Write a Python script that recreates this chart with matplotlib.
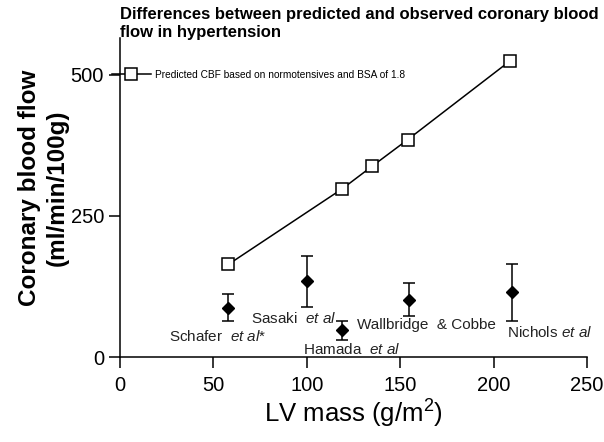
import matplotlib
matplotlib.use("Agg")
import matplotlib.pyplot as plt

plt.rcParams['font.family'] = ['Liberation Sans', 'DejaVu Sans']
plt.rcParams['mathtext.fontset'] = 'custom'
plt.rcParams['mathtext.rm'] = 'Liberation Sans'
plt.rcParams['mathtext.it'] = 'Liberation Sans:italic'

# predicted CBF (normotensive based, BSA 1.8)
pred_mass = [58, 119, 135, 154, 209]
pred_cbf = [164, 298, 338, 385, 525]

# observed CBF in hypertension, mean with upper / lower error
obs_mass = [58, 100, 119, 154.5, 210]
obs_cbf = [87, 135, 47, 101, 116]
obs_hi = [111, 179, 63, 131, 165]
obs_lo = [64, 88, 30, 73, 64]

study_labels = ["Schafer  $\\it{et\\ al}$*", "Sasaki  $\\it{et\\ al}$",
                "Hamada  $\\it{et\\ al}$", "Wallbridge  & Cobbe",
                "Nichols $\\it{et\\ al}$"]
label_pos = [(26, 37), (70, 69), (98, 14), (127, 57), (207, 43)]

xticks = [0, 50, 100, 150, 200, 250]
yticks = [0, 250, 500]

fig = plt.figure(figsize=(6.04, 4.42), dpi=100)
ax = fig.add_axes([0.1987, 0.1923, 0.7732, 0.7217])

ax.plot(pred_mass, pred_cbf, color='black', lw=1.1, marker='s', ms=8,
        mfc='white', mec='black', mew=1.1,
        label='Predicted CBF based on normotensives and BSA of 1.8')

yerr = [[m - l for m, l in zip(obs_cbf, obs_lo)],
        [h - m for m, h in zip(obs_cbf, obs_hi)]]
ax.errorbar(obs_mass, obs_cbf, yerr=yerr, fmt='D', color='black', ms=6.5,
            ecolor='black', elinewidth=1.1, capsize=4, capthick=1.1)

for txt, (x, y) in zip(study_labels, label_pos):
    ax.text(x, y, txt, fontsize=11, va='center', ha='left', color='#222222')

ax.set_xlim(0, 250)
ax.set_ylim(0, 565)
ax.set_xticks(xticks)
ax.set_yticks(yticks)
ax.tick_params(labelsize=14.5, length=8, width=1.1, direction='out')
ax.tick_params(axis='x', pad=6)
for s in ['top', 'right']:
    ax.spines[s].set_visible(False)
for s in ['left', 'bottom']:
    ax.spines[s].set_linewidth(1.1)

ax.set_xlabel('LV mass (g/m$^2$)', fontsize=18.5, labelpad=2)
ax.set_ylabel('Coronary blood flow\n(ml/min/100g)', fontsize=17.5,
              fontweight='bold', linespacing=1.25)
ax.yaxis.set_label_coords(-0.11, 0.53)

leg = ax.legend(loc='center left', bbox_to_anchor=(-0.017, 0.885),
                frameon=False, fontsize=7.3, handlelength=3.8,
                handletextpad=0.4, borderpad=0, borderaxespad=0)

fig.text(0.1987, 0.985, 'Differences between predicted and observed coronary blood\nflow in hypertension',
         fontsize=12, fontweight='bold', ha='left', va='top', linespacing=1.3)

fig.savefig('out.png', dpi=100)
